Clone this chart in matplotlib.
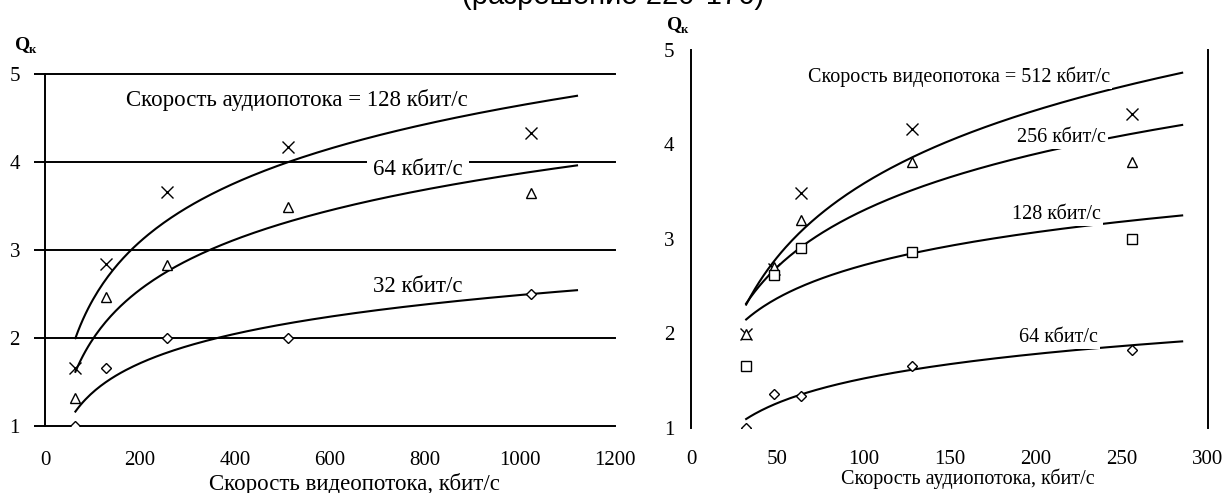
import matplotlib

matplotlib.use("Agg")
import matplotlib.pyplot as plt  # noqa: E402
import numpy as np  # noqa: E402

# Left panel: Q vs video rate, one series per audio rate
video_rates = [64, 128, 256, 512, 1024]
q_audio128 = [1.66, 2.84, 3.66, 4.17, 4.33]
q_audio64 = [1.32, 2.47, 2.83, 3.49, 3.65]
q_audio32 = [1.00, 1.66, 2.00, 2.00, 2.50]

# Right panel: Q vs audio rate, one series per video rate
audio_rates = [32, 48, 64, 128, 256]
q_video512 = [2.00, 2.68, 3.49, 4.16, 4.32]
q_video256 = [2.00, 2.70, 3.20, 3.82, 3.81]
q_video128 = [1.66, 2.62, 2.90, 2.86, 3.00]
q_video64 = [1.00, 1.36, 1.34, 1.66, 1.83]

left_labels = ["Скорость аудиопотока = 128 кбит/с", "64 кбит/с", "32 кбит/с"]
right_labels = ["Скорость видеопотока = 512 кбит/с", "256 кбит/с",
                "128 кбит/с", "64 кбит/с"]

W, H = 1223, 493
SERIF = ["Liberation Serif", "DejaVu Serif"]
LW = 1.4


def trend(ax, xs, ys, x_end):
    # Excel-style logarithmic trend line, with a little forward forecast
    b, a = np.polyfit(np.log(xs), ys, 1)
    xx = np.linspace(xs[0], x_end, 200)
    ax.plot(xx, a + b * np.log(xx), color="black", lw=1.5, zorder=3)


def style(ax):
    for s in ("top", "bottom"):
        ax.spines[s].set_visible(False)
    ax.spines["left"].set_linewidth(LW)
    ax.spines["right"].set_linewidth(LW)
    for t in ax.get_xticklabels() + ax.get_yticklabels():
        t.set_fontfamily(SERIF)
        t.set_fontsize(15)


fig = plt.figure(figsize=(W / 100, H / 100), dpi=100)

# ---- left panel
ax1 = fig.add_axes([45 / W, (H - 426) / H, 570 / W, 352 / H])
ax1.set_xlim(0, 1200)
ax1.set_ylim(1, 5)
ax1.spines["right"].set_visible(False)
ax1.set_xticks(range(0, 1201, 200))
ax1.set_xticks([0, 200, 400, 600], minor=True)
ax1.set_yticks([1, 2, 3, 4, 5])
ax1.tick_params(axis="x", which="major", length=0, pad=18)
ax1.tick_params(axis="x", which="minor", length=6, width=LW)
ax1.tick_params(axis="y", length=8, width=LW, pad=10)
ax1.grid(axis="x", which="minor", color="black", lw=LW)
ax1.grid(axis="y", which="major", color="black", lw=LW)
for gl in ax1.get_ygridlines():
    gl.set_clip_on(False)
style(ax1)

trend(ax1, video_rates, q_audio128, 1120)
trend(ax1, video_rates, q_audio64, 1120)
trend(ax1, video_rates, q_audio32, 1120)
mk = dict(color="black", ls="none", zorder=4, mfc="white", mew=1.0)
ax1.plot(video_rates, q_audio128, marker="x", ms=8, **mk)
ax1.plot(video_rates, q_audio64, marker="^", ms=7, **mk)
ax1.plot(video_rates, q_audio32, marker="D", ms=5.5, **mk)

# labels break the grid but sit under the curves
box_l = dict(facecolor="white", edgecolor="none", pad=4.5)
ax1.text(531, 4.71, left_labels[0], ha="center", va="center", fontsize=16.5,
         family=SERIF, bbox=box_l, zorder=2)
ax1.text(785, 3.92, left_labels[1], ha="center", va="center", fontsize=16.5,
         family=SERIF, bbox=box_l, zorder=2)
ax1.text(785, 2.58, left_labels[2], ha="center", va="center", fontsize=16.5,
         family=SERIF, bbox=box_l, zorder=2)

# ---- right panel
ax2 = fig.add_axes([691 / W, (H - 428) / H, 517 / W, 378 / H])
ax2.set_xlim(0, 300)
ax2.set_ylim(1, 5)
ax2.set_xticks(range(0, 301, 50))
ax2.set_xticks([0, 150, 300], minor=True)
ax2.set_yticks([1, 2, 3, 4, 5])
ax2.set_yticks([2, 3, 4], minor=True)
ax2.tick_params(axis="x", which="major", length=0, pad=16)
ax2.tick_params(axis="x", which="minor", length=5, width=LW)
ax2.tick_params(axis="y", which="major", length=0, pad=12)
ax2.tick_params(axis="y", which="minor", length=8, width=LW)
ax2.grid(axis="x", which="minor", color="black", lw=LW)
ax2.grid(axis="y", which="minor", color="black", lw=LW)
style(ax2)

trend(ax2, audio_rates, q_video512, 285)
trend(ax2, audio_rates, q_video256, 285)
trend(ax2, audio_rates, q_video128, 285)
trend(ax2, audio_rates, q_video64, 285)
ax2.plot(audio_rates, q_video512, marker="x", ms=8, **mk)
ax2.plot(audio_rates, q_video256, marker="^", ms=7, **mk)
ax2.plot(audio_rates, q_video128, marker="s", ms=7, **mk)
ax2.plot(audio_rates, q_video64, marker="D", ms=5.5, **mk)

box_r = dict(facecolor="white", edgecolor="none", pad=1.5)
ax2.text(155.5, 4.72, right_labels[0], ha="center", va="center", fontsize=14.5,
         family=SERIF, bbox=box_r, zorder=6)
ax2.text(215, 4.07, right_labels[1], ha="center", va="center", fontsize=14.5,
         family=SERIF, bbox=box_r, zorder=6)
ax2.text(212, 3.26, right_labels[2], ha="center", va="center", fontsize=14.5,
         family=SERIF, bbox=box_r, zorder=6)
ax2.text(213, 1.96, right_labels[3], ha="center", va="center", fontsize=14.5,
         family=SERIF, bbox=box_r, zorder=6)

# axis titles and Q labels
fig.text(354 / W, 1 - 484 / H, "Скорость видеопотока, кбит/с", ha="center",
         va="center", fontsize=16.5, family=SERIF)
fig.text(968 / W, 1 - 479 / H, "Скорость аудиопотока, кбит/с", ha="center",
         va="center", fontsize=14.5, family=SERIF)
for qx, qy in [(15, 45), (667, 25)]:
    fig.text(qx / W, 1 - qy / H, "Q", ha="left", va="center", fontsize=14,
             family=SERIF, weight="bold")
    fig.text((qx + 14) / W, 1 - (qy + 5) / H, "к", ha="left", va="center",
             fontsize=9, family=SERIF, weight="bold")

# caption cut off by the top edge, as in the source scan
fig.text(613 / W, 1 - 4 / H, "(разрешение 220*176)", ha="center",
         va="baseline", fontsize=21, family=["Liberation Sans", "DejaVu Sans"])

fig.savefig("out.png", dpi=100)
